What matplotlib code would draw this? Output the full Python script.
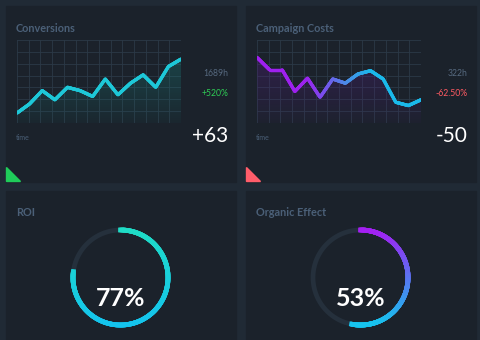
import matplotlib
matplotlib.use("Agg")
import matplotlib.pyplot as plt
import numpy as np
from matplotlib.collections import LineCollection
from matplotlib.colors import LinearSegmentedColormap
from matplotlib.patches import Rectangle, Polygon

plt.rcParams['font.family'] = ['Lato', 'DejaVu Sans']

# data
conv_values = [12, 23, 39, 28, 43, 39, 32, 53, 34, 48, 58, 43, 68, 77]
cost_values = [79, 64, 64, 38, 54, 31, 53, 48, 59, 63, 53, 25, 21, 28]
panel_titles = ["Conversions", "Campaign Costs", "ROI", "Organic Effect"]
hours = ["1689h", "322h"]
changes = ["+520%", "-62.50%"]
totals = ["+63", "-50"]
ring_pct = [77, 53]

BG = "#202a35"
PANEL = "#1b222b"
TITLE = "#4b6078"
GRID = "#2b3947"
TRACK = "#25303c"

W, H = 480, 340
fig = plt.figure(figsize=(4.8, 3.4), dpi=100, facecolor=BG)
base = fig.add_axes([0, 0, 1, 1])
base.set_xlim(0, W)
base.set_ylim(H, 0)
base.axis("off")

# panels
for (x0, y0, w, h) in [(6, 6, 230, 176), (246, 6, 230, 176), (6, 191, 230, 160), (246, 191, 230, 160)]:
    base.add_patch(Rectangle((x0, y0), w, h, color=PANEL, zorder=0))

for i, (tx, ty) in enumerate([(16, 29), (256, 29), (16, 213), (256, 213)]):
    base.text(tx, ty, panel_titles[i], color=TITLE, fontsize=7.8, fontweight="bold", va="center", ha="left")

teal_cmap = LinearSegmentedColormap.from_list("teal", ["#1ec8d8", "#1ec8d8"])
cost_cmap = LinearSegmentedColormap.from_list("cost", [(0, "#a01ff0"), (0.3, "#9c22ee"), (0.55, "#4b8ce8"), (0.7, "#1ab9ea"), (1, "#1ab9ea")])


def line_panel(ox, values, cmap, fill_color, hour, change, change_color, total, tri_color):
    # chart area in pixels
    left, top, right, bottom = ox + 17, 40, ox + 181, 123
    ax = fig.add_axes([left / W, 1 - bottom / H, (right - left) / W, (bottom - top) / H])
    ax.set_facecolor("none")
    n = len(values)
    ax.set_xlim(0, n - 1)
    ax.set_ylim(0, 100)
    for gx in np.linspace(0, n - 1, 15):
        ax.axvline(gx, color=GRID, lw=0.6, zorder=1)
    for gy in np.linspace(0, 100, 8):
        ax.axhline(gy, color=GRID, lw=0.6, zorder=1)
    for s in ax.spines.values():
        s.set_visible(False)
    ax.set_xticks([])
    ax.set_yticks([])

    xs = np.arange(n)
    # fill with vertical fade, clipped under the line
    grad = np.linspace(0, 1, 100).reshape(-1, 1)
    rgba = np.zeros((100, 1, 4))
    c = matplotlib.colors.to_rgb(fill_color)
    rgba[..., 0], rgba[..., 1], rgba[..., 2] = c
    rgba[..., 3] = 0.05 + 0.35 * grad
    im = ax.imshow(rgba, extent=[0, n - 1, 0, 100], origin="lower", aspect="auto", zorder=2)
    poly = Polygon(np.vstack([[0, 0], np.column_stack([xs, values]), [n - 1, 0]]), transform=ax.transData, facecolor="none", edgecolor="none")
    ax.add_patch(poly)
    im.set_clip_path(poly)

    # gradient line, each segment split finely
    fx = np.linspace(0, n - 1, 400)
    fy = np.interp(fx, xs, values)
    pts = np.column_stack([fx, fy]).reshape(-1, 1, 2)
    segs = np.concatenate([pts[:-1], pts[1:]], axis=1)
    lc = LineCollection(segs, colors=cmap(fx[:-1] / (n - 1)), linewidths=2.4, capstyle="round", joinstyle="round", zorder=3)
    ax.add_collection(lc)

    base.text(ox + 228, 74, hour, color="#56697f", fontsize=6.2, ha="right", va="center")
    base.text(ox + 228, 93, change, color=change_color, fontsize=6.2, ha="right", va="center")
    base.text(ox + 228, 136, total, color="white", fontsize=15, ha="right", va="center")
    base.text(ox + 16, 138, "time", color=TITLE, fontsize=5, ha="left", va="center")
    base.add_patch(Polygon([[ox + 6, 167], [ox + 6, 181], [ox + 20, 181]], color=tri_color, zorder=1))


line_panel(0, conv_values, teal_cmap, "#1a8a84", hours[0], changes[0], "#2ecc55", totals[0], "#1fcc5a")
line_panel(240, cost_values, cost_cmap, "#5a1a8a", hours[1], changes[1], "#ff5a62", totals[1], "#ff5d6a")


def ring(cx, cy, pct, top_color, bottom_color):
    r = 47.5
    t = np.linspace(0, 2 * np.pi, 300)
    base.plot(cx + r * np.sin(t), cy - r * np.cos(t), color=TRACK, lw=3.4, zorder=2)
    cmap = LinearSegmentedColormap.from_list("ring", [top_color, bottom_color])
    a = np.linspace(0, 2 * np.pi * pct / 100, 200)
    px = cx + r * np.sin(a)
    py = cy - r * np.cos(a)
    pts = np.column_stack([px, py]).reshape(-1, 1, 2)
    segs = np.concatenate([pts[:-1], pts[1:]], axis=1)
    frac = (py[:-1] - (cy - r)) / (2 * r)
    lc = LineCollection(segs, colors=cmap(frac), linewidths=3.4, capstyle="projecting", antialiaseds=True, zorder=3)
    base.add_collection(lc)
    base.text(cx, cy + 21, f"{pct}%", color="white", fontsize=18, fontweight="bold", ha="center", va="center", zorder=4)


ring(120.5, 277.5, ring_pct[0], "#1fdcc6", "#14c4ee")
ring(360.5, 277.5, ring_pct[1], "#a41ff2", "#16c4ee")

fig.savefig("out.png", dpi=100, facecolor=BG)
